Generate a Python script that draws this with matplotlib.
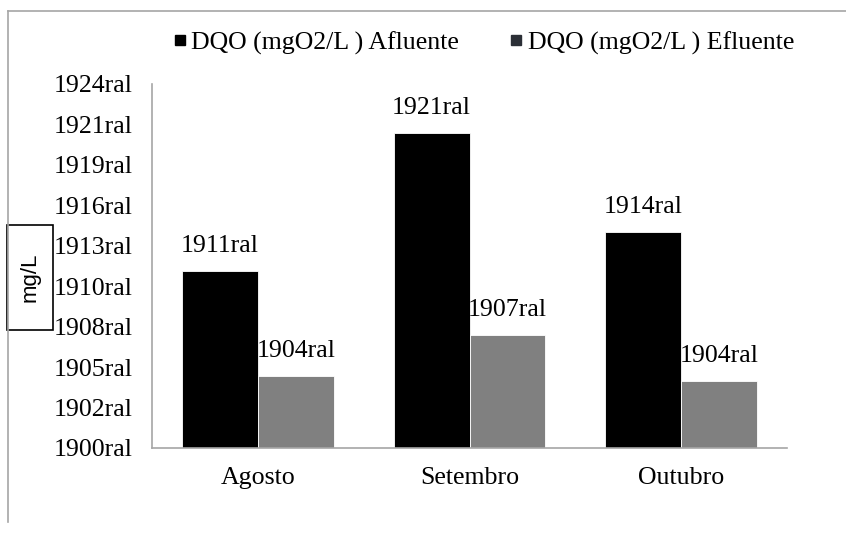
import matplotlib
matplotlib.use("Agg")
import matplotlib.pyplot as plt
from matplotlib.lines import Line2D
from matplotlib.patches import Rectangle
import numpy as np

categories = ["Agosto", "Setembro", "Outubro"]
afluente = [4369, 7797, 5334]
efluente = [1780, 2794, 1657]
afluente_labels = ["1911ral", "1921ral", "1914ral"]
efluente_labels = ["1904ral", "1907ral", "1904ral"]
ytick_values = [0, 1000, 2000, 3000, 4000, 5000, 6000, 7000, 8000, 9000]
ytick_labels = ["1900ral", "1902ral", "1905ral", "1908ral", "1910ral",
                "1913ral", "1916ral", "1919ral", "1921ral", "1924ral"]
series_names = ["DQO (mgO2/L ) Afluente", "DQO (mgO2/L ) Efluente"]
y_title = "mg/L"

serif = "Liberation Serif"
FS = 18.6
W, H = 846, 540
fig = plt.figure(figsize=(W / 100, H / 100), dpi=100)
ax = fig.add_axes([152 / W, 1 - 448 / H, (787 - 152) / W, (448 - 84) / H])

x = np.arange(len(categories))
bw = 0.359
b1 = ax.bar(x - bw / 2, afluente, bw, color="#000000", edgecolor="white", linewidth=0.6)
b2 = ax.bar(x + bw / 2, efluente, bw, color="#808080", edgecolor="white", linewidth=0.6)

for bars, labels in ((b1, afluente_labels), (b2, efluente_labels)):
    for rect, lab in zip(bars, labels):
        ax.annotate(lab, (rect.get_x() + rect.get_width() / 2, rect.get_height()),
                    xytext=(0, 19), textcoords="offset pixels",
                    ha="center", va="baseline", fontsize=FS, family=serif)

ax.set_xlim(-0.5, 2.5)
ax.set_ylim(0, 9000)
ax.set_yticks(ytick_values)
ax.set_yticklabels(ytick_labels, family=serif, fontsize=FS)
ax.set_xticks(x)
ax.set_xticklabels(categories, family=serif, fontsize=FS)
ax.tick_params(axis="both", length=0)
ax.tick_params(axis="y", pad=14)
ax.tick_params(axis="x", pad=14)
for s in ("top", "right"):
    ax.spines[s].set_visible(False)
for s in ("left", "bottom"):
    ax.spines[s].set_color("#a6a6a6")
    ax.spines[s].set_linewidth(1.2)

# y title in a box
fig.add_artist(Rectangle((7 / W, 1 - 330 / H), 46 / W, 105 / H, transform=fig.transFigure,
                         facecolor="white", edgecolor="black", linewidth=1.2))
fig.text(30 / W, 1 - 277 / H, y_title, rotation=90, ha="center", va="center",
         family="Liberation Sans", fontsize=16)

# legend
handles = [Line2D([], [], linestyle="none", marker="s", markersize=7, color="#000000"),
           Line2D([], [], linestyle="none", marker="s", markersize=7, color="#2b2f36")]
fig.legend(handles, series_names, loc="center", bbox_to_anchor=(483 / W, 1 - 43 / H),
           ncol=2, frameon=False, prop={"family": serif, "size": FS},
           handletextpad=0.15, columnspacing=1.9, handlelength=0.6)

# outer frame (top and left)
fig.add_artist(Line2D([8 / W, 1], [1 - 11 / H, 1 - 11 / H], color="#a6a6a6", linewidth=1.2))
fig.add_artist(Line2D([8 / W, 8 / W], [1 - 11 / H, 1 - 522 / H], color="#a6a6a6", linewidth=1.2))

fig.savefig("out.png", dpi=100)
